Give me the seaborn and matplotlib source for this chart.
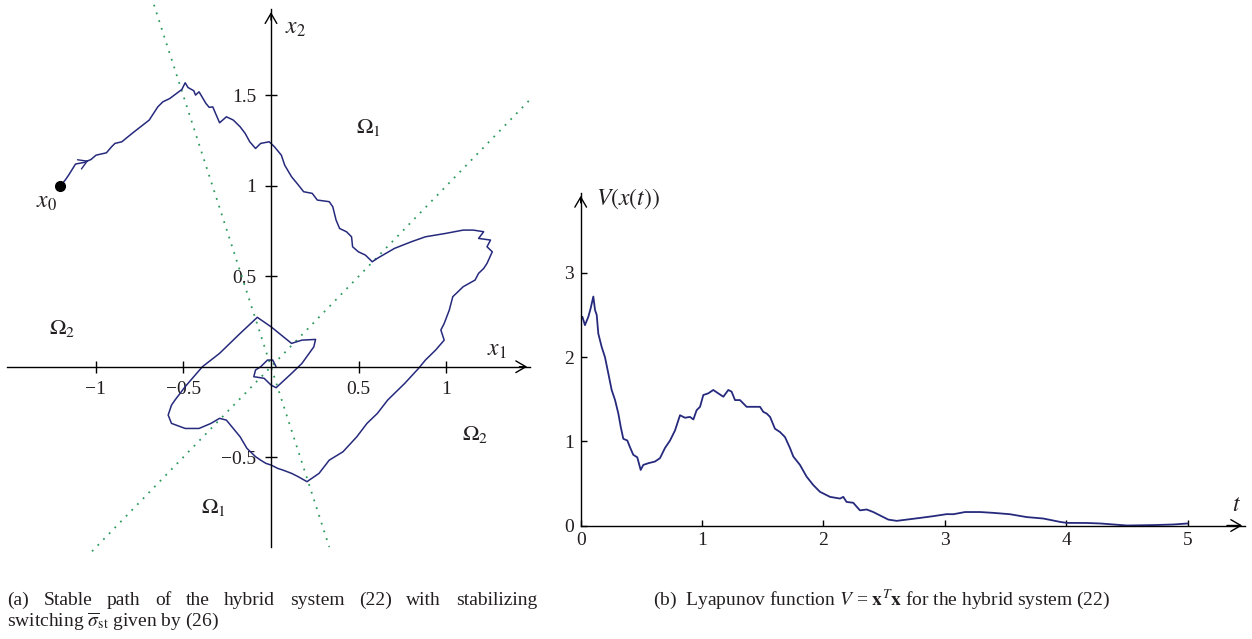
import matplotlib
matplotlib.use("Agg")
import matplotlib.pyplot as plt
import seaborn as sns
import pandas as pd

# ---------------- data ----------------
# (a) stable path of the hybrid system
path_x = [-1.200, -1.173, -1.153, -1.124, -1.114, -1.065, -1.026, -0.997, -0.938, -0.909,
          -0.889, -0.850, -0.792, -0.743, -0.694, -0.645, -0.616, -0.577, -0.508, -0.489,
          -0.473, -0.440, -0.430, -0.410, -0.371, -0.352, -0.332, -0.293, -0.254, -0.215,
          -0.176, -0.147, -0.121, -0.088, -0.059, -0.010, 0.020, 0.059, 0.078, 0.117,
          0.156, 0.186, 0.235, 0.264, 0.332, 0.352, 0.371, 0.391, 0.430, 0.459,
          0.465, 0.498, 0.538, 0.577, 0.606, 0.704, 0.801, 0.880, 0.997, 1.095,
          1.153, 1.212, 1.183, 1.251, 1.231, 1.261, 1.231, 1.212, 1.183, 1.163,
          1.095, 1.036, 1.016, 0.987, 0.968, 0.987, 0.938, 0.880, 0.841, 0.762,
          0.665, 0.606, 0.547, 0.489, 0.410, 0.332, 0.274, 0.205, 0.156, 0.117,
          0.068, 0.039, 0.000, -0.029, -0.059, -0.088, -0.137, -0.176, -0.215, -0.254,
          -0.293, -0.342, -0.410, -0.489, -0.567, -0.586, -0.567, -0.547, -0.489, -0.391,
          -0.293, -0.176, -0.078, 0.000, 0.059, 0.117, 0.176, 0.254, 0.244, 0.176,
          0.117, 0.029, 0.000, -0.039, -0.098, -0.088, -0.059, -0.020, 0.010, 0.029]
path_y = [1.000, 1.031, 1.059, 1.105, 1.120, 1.129, 1.145, 1.169, 1.182, 1.215,
          1.234, 1.243, 1.289, 1.326, 1.363, 1.436, 1.464, 1.482, 1.532, 1.569,
          1.543, 1.525, 1.501, 1.519, 1.455, 1.433, 1.436, 1.348, 1.381, 1.363,
          1.326, 1.289, 1.243, 1.206, 1.234, 1.243, 1.215, 1.169, 1.114, 1.050,
          1.004, 0.967, 0.958, 0.921, 0.912, 0.884, 0.810, 0.764, 0.746, 0.718,
          0.663, 0.635, 0.617, 0.580, 0.599, 0.654, 0.691, 0.718, 0.737, 0.755,
          0.755, 0.746, 0.709, 0.700, 0.663, 0.635, 0.571, 0.543, 0.516, 0.479,
          0.442, 0.387, 0.313, 0.239, 0.203, 0.147, 0.092, 0.037, -0.009, -0.092,
          -0.184, -0.258, -0.313, -0.387, -0.470, -0.516, -0.589, -0.635, -0.608, -0.589,
          -0.571, -0.562, -0.543, -0.534, -0.516, -0.497, -0.451, -0.387, -0.341, -0.295,
          -0.285, -0.313, -0.341, -0.341, -0.313, -0.267, -0.212, -0.184, -0.110, 0.000,
          0.074, 0.184, 0.273, 0.221, 0.175, 0.129, 0.147, 0.151, 0.110, 0.018,
          -0.037, -0.116, -0.101, -0.064, -0.055, -0.018, 0.000, 0.037, 0.037, 0.000]

# switching boundaries (dotted lines): x2 = x1 and x2 = -3 x1
bound1_x = [-1.02, 1.48]
bound1_y = [-1.02, 1.48]
bound2_x = [-0.667, 0.332]
bound2_y = [2.0, -0.996]

x0_point = [-1.2, 1.0]

# (b) Lyapunov function V = x^T x
t_vals = [0, .014, .035, .063, .082, .104, .118, .132, .145, .173, .20, .227, .255, .283,
          .31, .33, .351, .384, .406, .433, .466, .494, .516, .557, .612, .653, .694,
          .736, .777, .818, .859, .90, .928, .955, .983, 1.01, 1.051, 1.092, 1.133,
          1.175, 1.216, 1.243, 1.271, 1.312, 1.367, 1.422, 1.477, 1.504, 1.532, 1.56,
          1.60, 1.642, 1.683, 1.724, 1.751, 1.806, 1.861, 1.916, 1.971, 2.054, 2.136,
          2.163, 2.19, 2.245, 2.30, 2.356, 2.41, 2.465, 2.534, 2.603, 2.685, 2.795,
          2.90, 3.015, 3.07, 3.166, 3.29, 3.40, 3.536, 3.674, 3.81, 3.948, 4.003,
          4.17, 4.28, 4.5, 4.72, 4.88, 5.0]
v_vals = [2.44, 2.48, 2.38, 2.48, 2.58, 2.72, 2.56, 2.50, 2.28, 2.12, 2.0, 1.81, 1.61,
          1.49, 1.33, 1.17, 1.03, 1.01, .93, .84, .81, .66, .72, .74, .76, .80, .92,
          1.01, 1.13, 1.31, 1.28, 1.29, 1.26, 1.37, 1.41, 1.55, 1.57, 1.61, 1.57,
          1.53, 1.61, 1.59, 1.49, 1.49, 1.41, 1.41, 1.41, 1.35, 1.33, 1.29, 1.15,
          1.11, 1.05, .92, .82, .72, .58, .48, .40, .34, .32, .34, .28, .27, .18,
          .19, .16, .12, .07, .055, .07, .09, .11, .135, .134, .16, .16, .15, .134,
          .10, .083, .043, .031, .03, .024, .0, .005, .012, .024]

left_xticks = [-1, -0.5, 0.5, 1]
left_xticklabels = ["\u22121", "\u22120.5", "0.5", "1"]
left_yticks = [-0.5, 0.5, 1, 1.5]
left_yticklabels = ["\u22120.5", "0.5", "1", "1.5"]
right_xticks = [0, 1, 2, 3, 4, 5]
right_yticks = [0, 1, 2, 3]

# ---------------- style ----------------
sns.set_theme(style="white")
plt.rcParams["font.family"] = ["Liberation Serif", "DejaVu Serif"]
plt.rcParams["mathtext.fontset"] = "stix"
TXT = "#231f20"
PATH = "#262a7c"
GREEN = "#2f9a5e"
W, H = 1252, 639

fig = plt.figure(figsize=(W / 100, H / 100), dpi=100)

def frac_box(x0, y0, x1, y1):
    return [x0 / W, 1 - y1 / H, (x1 - x0) / W, (y1 - y0) / H]

# ---------------- panel (a) ----------------
axa = fig.add_axes(frac_box(6.9, 9.3, 530, 547))
axa.set_xlim(-1.505, 1.476)
axa.set_ylim(-0.996, 1.975)

df_path = pd.DataFrame({"x1": path_x, "x2": path_y})
sns.lineplot(data=pd.DataFrame({"a": bound1_x, "b": bound1_y}), x="a", y="b", ax=axa,
             color=GREEN, lw=1.3, linestyle=(0, (1, 3.5)), sort=False, estimator=None)
sns.lineplot(data=pd.DataFrame({"a": bound2_x, "b": bound2_y}), x="a", y="b", ax=axa,
             color=GREEN, lw=1.3, linestyle=(0, (1, 3.5)), sort=False, estimator=None)
for ln in axa.get_lines():
    ln.set_clip_on(False)
sns.lineplot(data=df_path, x="x1", y="x2", ax=axa, color=PATH, lw=1.1,
             sort=False, estimator=None)
axa.plot([x0_point[0]], [x0_point[1]], "o", color="black", ms=7, zorder=5)
axa.annotate("", xy=(path_x[6], path_y[6]), xytext=(path_x[5], path_y[5]),
             arrowprops=dict(arrowstyle="->,head_length=0.5,head_width=0.3",
                             color=PATH, lw=1.0))

for s in ["top", "right"]:
    axa.spines[s].set_visible(False)
axa.spines["left"].set_position(("data", 0))
axa.spines["bottom"].set_position(("data", 0))
for s in ["left", "bottom"]:
    axa.spines[s].set_color("black")
    axa.spines[s].set_linewidth(1.0)
axa.set_xticks(left_xticks)
axa.set_xticklabels(left_xticklabels)
axa.set_yticks(left_yticks)
axa.set_yticklabels(left_yticklabels)
axa.tick_params(axis="both", direction="inout", length=9, width=1.0, color="black",
                labelsize=14, labelcolor=TXT, pad=6, bottom=True, left=True)
axa.set_xlabel("")
axa.set_ylabel("")
axa.annotate("", xy=(1.476, 0), xytext=(1.40, 0),
             arrowprops=dict(arrowstyle="->,head_length=0.6,head_width=0.35", color="black", lw=1.0))
axa.annotate("", xy=(0, 1.975), xytext=(0, 1.90),
             arrowprops=dict(arrowstyle="->,head_length=0.6,head_width=0.35", color="black", lw=1.0))

axa.text(0.137, 1.871, r"$x_2$", fontsize=17, ha="center", va="center", color=TXT)
axa.text(1.288, 0.092, r"$x_1$", fontsize=17, ha="center", va="center", color=TXT)
axa.text(-1.282, 0.91, r"$x_0$", fontsize=17, ha="center", va="center", color=TXT)
axa.text(0.558, 1.324, r"$\Omega_1$", fontsize=16, ha="center", va="center", color=TXT)
axa.text(-1.191, 0.214, r"$\Omega_2$", fontsize=16, ha="center", va="center", color=TXT)
axa.text(1.162, -0.377, r"$\Omega_2$", fontsize=16, ha="center", va="center", color=TXT)
axa.text(-0.330, -0.775, r"$\Omega_1$", fontsize=16, ha="center", va="center", color=TXT)

# ---------------- panel (b) ----------------
axb = fig.add_axes(frac_box(580.7, 193, 1245, 525.5))
axb.set_xlim(0, 5.472)
axb.set_ylim(0, 3.95)
sns.lineplot(data=pd.DataFrame({"t": t_vals, "V": v_vals}), x="t", y="V", ax=axb,
             color=PATH, lw=1.3, sort=False, estimator=None)
for s in ["top", "right"]:
    axb.spines[s].set_visible(False)
for s in ["left", "bottom"]:
    axb.spines[s].set_color("black")
    axb.spines[s].set_linewidth(1.0)
axb.set_xticks(right_xticks)
axb.set_yticks(right_yticks)
axb.tick_params(axis="both", direction="in", length=4, width=1.0, color="black",
                labelsize=14, labelcolor=TXT, pad=5, bottom=True, left=True)
axb.set_xlabel("")
axb.set_ylabel("")
axb.annotate("", xy=(5.472, 0), xytext=(5.3, 0), annotation_clip=False,
             arrowprops=dict(arrowstyle="->,head_length=0.6,head_width=0.35", color="black", lw=1.0))
axb.annotate("", xy=(0, 3.95), xytext=(0, 3.8), annotation_clip=False,
             arrowprops=dict(arrowstyle="->,head_length=0.6,head_width=0.35", color="black", lw=1.0))
axb.text(5.40, 0.24, r"$t$", fontsize=17, ha="center", va="center", color=TXT)
axb.text(0.125, 3.88, r"$V(x(t))$", fontsize=17, ha="left", va="center", color=TXT)

# ---------------- captions ----------------
cap_kw = dict(fontsize=14, color=TXT, va="baseline")
renderer = fig.canvas.get_renderer()

def justified(words, x0, x1, ybase):
    texts = [fig.text(0, 1 - ybase / H, w, **cap_kw) for w in words]
    widths = [t.get_window_extent(renderer).width for t in texts]
    gap = (x1 - x0 - sum(widths)) / (len(words) - 1)
    x = x0
    for t, w in zip(texts, widths):
        t.set_x(x / W)
        x += w + gap

justified(["(a)", "Stable", "path", "of", "the", "hybrid", "system", "(22)", "with",
           "stabilizing"], 7, 537, 605)
fig.text(7 / W, 1 - 626 / H, r"switching $\overline{\sigma}_{\mathrm{st}}$ given by (26)", **cap_kw)
fig.text(653 / W, 1 - 605 / H,
         r"(b)  Lyapunov function $V$ = $\mathbf{x}^T\mathbf{x}$ for the hybrid system (22)",
         **cap_kw)

fig.savefig("out.png", dpi=100)
